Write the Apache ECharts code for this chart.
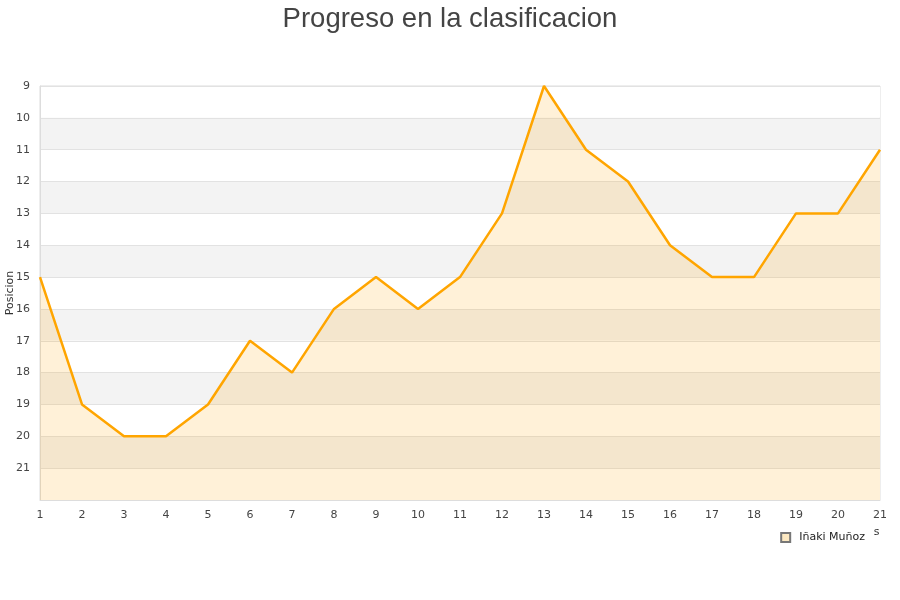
<!DOCTYPE html>
<html><head><meta charset="utf-8">
<script src="https://cdn.jsdelivr.net/npm/echarts@6/dist/echarts.min.js"></script>
<style>html,body{margin:0;padding:0;background:#fff}#c{width:900px;height:600px}</style>
</head><body><div id="c"></div>
<script>
const jornadas = ['1','2','3','4','5','6','7','8','9','10','11','12','13','14','15','16','17','18','19','20','21'];
const posiciones = [15,19,20,20,19,17,18,16,15,16,15,13,9,11,12,14,15,15,13,13,11];
const seriesName = 'Iñaki Muñoz';
const chart = echarts.init(document.getElementById('c'));
chart.setOption({
  animation: false,
  title: {text: 'Progreso en la clasificacion', left: 'center', top: 0,
    textStyle: {fontFamily: 'Liberation Sans', fontSize: 27.5, fontWeight: 'normal', color: '#444'}},
  grid: {left: 40, right: 20, top: 86, bottom: 100, show: true, borderColor: '#ddd', borderWidth: 1,
    containLabel: false, outerBoundsMode: 'none'},
  legend: {data: [{name: seriesName, icon: 'rect'}], right: 27, top: 527, itemWidth: 9, itemHeight: 9,
    backgroundColor: '#fff', padding: [5, 8, 8, 4], z: 10,
    textStyle: {fontFamily: 'DejaVu Sans', fontSize: 11, color: '#222', padding: [0, 0, 0, 4]}},
  xAxis: {type: 'category', data: jornadas, boundaryGap: false,
    name: 'Jornadas', nameLocation: 'end', nameGap: -48, nameMoveOverlap: false,
    nameTextStyle: {fontFamily: 'DejaVu Sans', fontSize: 11, color: '#333', verticalAlign: 'top', padding: [27, 0, 0, 0]},
    axisLine: {show: true, lineStyle: {color: '#ddd'}}, axisTick: {show: false},
    axisLabel: {fontFamily: 'DejaVu Sans', fontSize: 11, color: '#444', margin: 10},
    splitLine: {show: false}},
  yAxis: {type: 'value', inverse: true, min: 9, max: 22, interval: 1,
    name: 'Posicion', nameLocation: 'middle', nameGap: 24, nameMoveOverlap: false,
    nameTextStyle: {fontFamily: 'DejaVu Sans', fontSize: 11, color: '#333'},
    axisLine: {show: true, lineStyle: {color: '#ddd'}}, axisTick: {show: false},
    axisLabel: {fontFamily: 'DejaVu Sans', fontSize: 11, color: '#444', margin: 10,
      formatter: v => v === 22 ? '' : String(v)},
    splitLine: {show: true, lineStyle: {color: '#e2e2e2'}},
    splitArea: {show: true, areaStyle: {color: ['#ffffff', '#f3f3f3']}}},
  series: [{name: seriesName, type: 'line', data: posiciones, symbol: 'none',
    lineStyle: {color: '#ffa500', width: 2.5}, itemStyle: {color: '#fde9c2', borderColor: '#777', borderWidth: 1},
    areaStyle: {color: 'rgba(255,165,0,0.22)', origin: 'end'}}]
});
</script></body></html>
